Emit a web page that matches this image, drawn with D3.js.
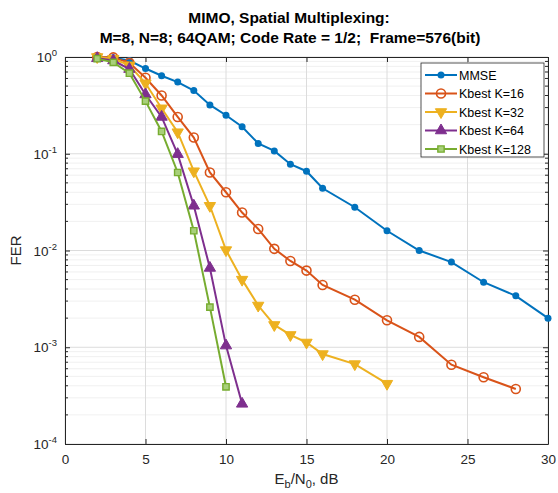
<!DOCTYPE html>
<html>
<head>
<meta charset="utf-8">
<script src="https://cdn.jsdelivr.net/npm/d3@7"></script>
<style>
  body { margin: 0; background: #fff; }
  text { font-family: "Liberation Sans", Arial, sans-serif; }
</style>
</head>
<body>
<div id="chart"></div>
<script>
// FER vs Eb/N0 for MIMO detectors

const seriesNames = ["MMSE", "Kbest K=16", "Kbest K=32", "Kbest K=64", "Kbest K=128"];
const seriesColors = ["#0072BD", "#D95319", "#EDB120", "#7E2F8E", "#77AC30"];

const mmseX = [2, 3, 4, 5, 6, 7, 8, 9, 10, 11, 12, 13, 14, 15, 16, 18, 20, 22, 24, 26, 28, 30];
const mmseY = [1.0, 0.98, 0.92, 0.76, 0.64, 0.55, 0.45, 0.32, 0.25, 0.19, 0.128, 0.107, 0.078, 0.066, 0.044, 0.028, 0.016, 0.01, 0.0076, 0.0047, 0.0034, 0.002];

const k16X = [2, 3, 4, 5, 6, 7, 8, 9, 10, 11, 12, 13, 14, 15, 16, 18, 20, 22, 24, 26, 28];
const k16Y = [1.0, 0.99, 0.87, 0.61, 0.40, 0.24, 0.147, 0.064, 0.040, 0.0247, 0.0167, 0.0104, 0.0078, 0.0062, 0.0044, 0.0031, 0.0019, 0.00128, 0.00066, 0.00049, 0.00037];

const k32X = [2, 3, 4, 5, 6, 7, 8, 9, 10, 11, 12, 13, 14, 15, 16, 18, 20];
const k32Y = [1.0, 0.96, 0.82, 0.535, 0.295, 0.167, 0.066, 0.029, 0.0101, 0.005, 0.0027, 0.0017, 0.00134, 0.00112, 0.00085, 0.00067, 0.00042];

const k64X = [2, 3, 4, 5, 6, 7, 8, 9, 10, 11];
const k64Y = [0.97, 0.92, 0.75, 0.41, 0.24, 0.099, 0.029, 0.0066, 0.00104, 0.00026];

const k128X = [2, 3, 4, 5, 6, 7, 8, 9, 10];
const k128Y = [0.96, 0.88, 0.68, 0.35, 0.17, 0.064, 0.016, 0.0026, 0.00039];

const xTicks = [0, 5, 10, 15, 20, 25, 30];
const yExponents = [0, -1, -2, -3, -4];

function createVisualization() {
    const svgWidth = 558;
    const svgHeight = 493;
    const margin = { top: 57, right: 10, bottom: 49, left: 65 };
    const width = svgWidth - margin.left - margin.right;
    const height = svgHeight - margin.top - margin.bottom;

    const svg = d3.select("#chart")
        .append("svg")
        .attr("width", svgWidth)
        .attr("height", svgHeight);

    const g = svg.append("g")
        .attr("transform", `translate(${margin.left},${margin.top})`);

    // Scales
    const xScale = d3.scaleLinear().domain([0, 30]).range([0, width]);
    const yScale = d3.scaleLog().domain([1e-4, 1]).range([height, 0]);

    // Minor grid
    const minorVals = [];
    for (let e = -4; e < 0; e++) {
        for (let m = 2; m <= 9; m++) minorVals.push(m * Math.pow(10, e));
    }
    g.selectAll(".minor-grid")
        .data(minorVals)
        .enter().append("line")
        .attr("x1", 0).attr("x2", width)
        .attr("y1", d => yScale(d)).attr("y2", d => yScale(d))
        .attr("stroke", "#ececec")
        .attr("stroke-width", 0.8);

    // Major grid
    g.selectAll(".xgrid")
        .data(xTicks)
        .enter().append("line")
        .attr("x1", d => xScale(d)).attr("x2", d => xScale(d))
        .attr("y1", 0).attr("y2", height)
        .attr("stroke", "#dcdcdc")
        .attr("stroke-width", 1);
    g.selectAll(".ygrid")
        .data(yExponents)
        .enter().append("line")
        .attr("x1", 0).attr("x2", width)
        .attr("y1", d => yScale(Math.pow(10, d))).attr("y2", d => yScale(Math.pow(10, d)))
        .attr("stroke", "#dcdcdc")
        .attr("stroke-width", 1);

    // Axes
    const xAxis = d3.axisBottom(xScale).tickValues(xTicks).tickSizeInner(-5).tickSizeOuter(0).tickPadding(10);
    const xAxisTop = d3.axisTop(xScale).tickValues(xTicks).tickSizeInner(-5).tickSizeOuter(0).tickFormat("");
    const yAxis = d3.axisLeft(yScale).tickValues(yExponents.map(e => Math.pow(10, e))).tickSizeInner(-5).tickSizeOuter(0).tickFormat("");
    const yAxisRight = d3.axisRight(yScale).tickValues(yExponents.map(e => Math.pow(10, e))).tickSizeInner(-5).tickSizeOuter(0).tickFormat("");

    const gx = g.append("g").attr("transform", `translate(0,${height})`).call(xAxis);
    g.append("g").call(xAxisTop);
    g.append("g").call(yAxis);
    g.append("g").attr("transform", `translate(${width},0)`).call(yAxisRight);

    // Minor ticks on left/right
    g.selectAll(".minor-tick-l")
        .data(minorVals)
        .enter().append("line")
        .attr("x1", 0).attr("x2", 3)
        .attr("y1", d => yScale(d)).attr("y2", d => yScale(d))
        .attr("stroke", "#262626");
    g.selectAll(".minor-tick-r")
        .data(minorVals)
        .enter().append("line")
        .attr("x1", width - 3).attr("x2", width)
        .attr("y1", d => yScale(d)).attr("y2", d => yScale(d))
        .attr("stroke", "#262626");

    g.selectAll(".domain").attr("stroke", "#262626");
    g.selectAll(".tick line").attr("stroke", "#262626");
    gx.selectAll(".tick text")
        .attr("font-size", 13.5)
        .attr("fill", "#262626");

    // Y tick labels with superscripts
    const yl = g.selectAll(".ylab")
        .data(yExponents)
        .enter().append("text")
        .attr("x", -8)
        .attr("y", d => yScale(Math.pow(10, d)) + 5)
        .attr("text-anchor", "end")
        .attr("font-size", 13.5)
        .attr("fill", "#262626");
    yl.append("tspan").text("10");
    yl.append("tspan")
        .attr("dy", -6)
        .attr("font-size", 9.5)
        .text(d => String(d));

    // Series
    const allX = [mmseX, k16X, k32X, k64X, k128X];
    const allY = [mmseY, k16Y, k32Y, k64Y, k128Y];
    const series = seriesNames.map((name, i) => ({
        name: name,
        color: seriesColors[i],
        points: allX[i].map((x, j) => ({ x: x, y: allY[i][j] }))
    }));

    const line = d3.line()
        .x(d => xScale(d.x))
        .y(d => yScale(d.y));

    function drawMarker(sel, i, color) {
        if (i === 0) {
            sel.append("circle").attr("r", 3.5).attr("fill", color);
        } else if (i === 1) {
            sel.append("circle").attr("r", 4.5).attr("fill", "none")
                .attr("stroke", color).attr("stroke-width", 1.6);
        } else if (i === 2) {
            sel.append("path").attr("d", d3.symbol(d3.symbolTriangle, 55)())
                .attr("transform", "rotate(180)")
                .attr("fill", color).attr("stroke", color);
        } else if (i === 3) {
            sel.append("path").attr("d", d3.symbol(d3.symbolTriangle, 55)())
                .attr("fill", color).attr("stroke", color);
        } else {
            sel.append("path").attr("d", d3.symbol(d3.symbolSquare, 40)())
                .attr("fill", "#a8d07a").attr("stroke", color).attr("stroke-width", 1.4);
        }
    }

    series.forEach((s, i) => {
        g.append("path")
            .datum(s.points)
            .attr("fill", "none")
            .attr("stroke", s.color)
            .attr("stroke-width", 2)
            .attr("d", line);
        g.selectAll(".pt" + i)
            .data(s.points)
            .enter().append("g")
            .attr("transform", d => `translate(${xScale(d.x)},${yScale(d.y)})`)
            .each(function () { drawMarker(d3.select(this), i, s.color); });
    });

    // Legend
    const legend = g.append("g").attr("transform", `translate(${width - 127},6)`);
    legend.append("rect")
        .attr("width", 123).attr("height", 94)
        .attr("fill", "#fff").attr("stroke", "#262626").attr("stroke-width", 0.8);
    series.forEach((s, i) => {
        const row = legend.append("g").attr("transform", `translate(0,${12 + i * 18.5})`);
        row.append("line")
            .attr("x1", 4).attr("x2", 36)
            .attr("stroke", s.color).attr("stroke-width", 2);
        const m = row.append("g").attr("transform", "translate(20,0)");
        drawMarker(m, i, s.color);
        row.append("text")
            .attr("x", 38).attr("y", 4.5)
            .attr("font-size", 12.5)
            .attr("fill", "#000")
            .text(s.name);
    });

    // Title
    svg.append("text")
        .attr("x", 289).attr("y", 23)
        .attr("text-anchor", "middle")
        .attr("font-size", 15.5).attr("font-weight", "bold")
        .style("white-space", "pre")
        .text("MIMO, Spatial Multiplexing:");
    svg.append("text")
        .attr("x", 290).attr("y", 43)
        .attr("text-anchor", "middle")
        .attr("font-size", 15.5).attr("font-weight", "bold")
        .style("white-space", "pre")
        .text("M=8, N=8; 64QAM; Code Rate = 1/2;  Frame=576(bit)");

    // Axis labels
    const xl = svg.append("text")
        .attr("x", margin.left + width / 2).attr("y", 484)
        .attr("text-anchor", "middle")
        .attr("font-size", 15)
        .attr("fill", "#262626");
    xl.append("tspan").text("E");
    xl.append("tspan").attr("dy", 4).attr("font-size", 11).text("b");
    xl.append("tspan").attr("dy", -4).text("/N");
    xl.append("tspan").attr("dy", 4).attr("font-size", 11).text("0");
    xl.append("tspan").attr("dy", -4).text(", dB");

    svg.append("text")
        .attr("transform", `translate(21,${margin.top + height / 2}) rotate(-90)`)
        .attr("text-anchor", "middle")
        .attr("font-size", 15)
        .attr("fill", "#262626")
        .text("FER");
}

createVisualization();
</script>
</body>
</html>
